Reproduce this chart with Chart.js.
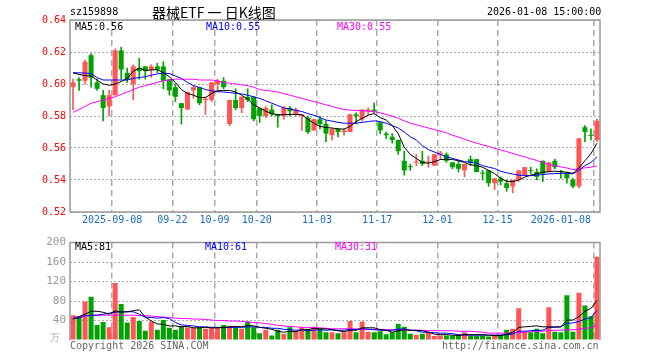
<!DOCTYPE html>
<html>
<head>
<meta charset="utf-8">
<script src="https://cdn.jsdelivr.net/npm/chart.js@4.4.1/dist/chart.umd.min.js"></script>
<style>
  body { margin: 0; background: #fff; }
  #wrap { position: relative; width: 660px; height: 360px; font-family: 'DejaVu Sans Mono', monospace; font-size: 10px; }
  #wrap canvas { position: absolute; left: 0; }
  .t { position: absolute; white-space: nowrap; line-height: 1; }
</style>
</head>
<body>
<div id="wrap">
  <canvas id="priceChart" width="660" height="232" style="top:0"></canvas>
  <canvas id="volChart" width="660" height="128" style="top:232px"></canvas>
  <div class="t" style="left:70px;top:7px">sz159898</div>
  <div class="t" style="left:152px;top:5px;font-family:'Noto Sans CJK SC',sans-serif;font-size:14px">器械ETF 一 日K线图</div>
  <div class="t" style="left:487px;top:7px">2026-01-08 15:00:00</div>
  <div class="t" style="left:75px;top:22px;color:#000">MA5:0.56</div>
  <div class="t" style="left:206px;top:22px;color:#00f">MA10:0.55</div>
  <div class="t" style="left:337px;top:22px;color:#f0f">MA30:0.55</div>
  <div class="t" style="left:75px;top:242px;color:#000">MA5:81</div>
  <div class="t" style="left:205px;top:242px;color:#00f">MA10:61</div>
  <div class="t" style="left:335px;top:242px;color:#f0f">MA30:31</div>
  <div class="t" style="left:50px;top:333px;color:#aaa">万</div>
  <div class="t" style="left:70px;top:341px;color:#666">Copyright 2026 SINA.COM</div>
  <div class="t" style="left:442px;top:341px;color:#666">http://finance.sina.com.cn</div>
</div>
<script>
const categories = [
  '2025-08-28','2025-08-29','2025-09-01','2025-09-02','2025-09-03','2025-09-04','2025-09-05','2025-09-08','2025-09-09','2025-09-10',
  '2025-09-11','2025-09-12','2025-09-15','2025-09-16','2025-09-17','2025-09-18','2025-09-19','2025-09-22','2025-09-23','2025-09-24',
  '2025-09-25','2025-09-26','2025-09-29','2025-09-30','2025-10-09','2025-10-10','2025-10-13','2025-10-14','2025-10-15','2025-10-16',
  '2025-10-17','2025-10-20','2025-10-21','2025-10-22','2025-10-23','2025-10-24','2025-10-27','2025-10-28','2025-10-29','2025-10-30',
  '2025-10-31','2025-11-03','2025-11-04','2025-11-05','2025-11-06','2025-11-07','2025-11-10','2025-11-11','2025-11-12','2025-11-13',
  '2025-11-14','2025-11-17','2025-11-18','2025-11-19','2025-11-20','2025-11-21','2025-11-24','2025-11-25','2025-11-26','2025-11-27',
  '2025-11-28','2025-12-01','2025-12-02','2025-12-03','2025-12-04','2025-12-05','2025-12-08','2025-12-09','2025-12-10','2025-12-11',
  '2025-12-12','2025-12-15','2025-12-16','2025-12-17','2025-12-18','2025-12-19','2025-12-22','2025-12-23','2025-12-24','2025-12-25',
  '2025-12-26','2025-12-29','2025-12-30','2025-12-31','2026-01-05','2026-01-06','2026-01-07','2026-01-08'
]

const openPx = [
  0.598,0.603,0.602,0.618,0.601,0.593,0.586,0.593,0.621,0.607,
  0.600,0.610,0.611,0.609,0.611,0.611,0.603,0.598,0.588,0.584,
  0.596,0.598,0.590,0.590,0.600,0.602,0.575,0.590,0.585,0.592,
  0.592,0.585,0.580,0.584,0.581,0.580,0.585,0.581,0.580,0.579,
  0.571,0.578,0.575,0.568,0.572,0.570,0.570,0.581,0.578,0.583,
  0.584,0.576,0.569,0.567,0.565,0.552,0.5485,0.551,0.552,0.551,
  0.549,0.556,0.556,0.551,0.550,0.546,0.553,0.553,0.5445,0.546,
  0.538,0.541,0.538,0.536,0.540,0.543,0.546,0.545,0.552,0.545,
  0.552,0.5455,0.544,0.540,0.536,0.573,0.568,0.565
]
const closePx = [
  0.601,0.602,0.614,0.604,0.597,0.585,0.593,0.621,0.609,0.603,
  0.611,0.608,0.608,0.611,0.609,0.602,0.596,0.592,0.585,0.595,
  0.598,0.588,0.590,0.601,0.602,0.598,0.590,0.585,0.592,0.590,
  0.578,0.580,0.585,0.581,0.580,0.585,0.583,0.584,0.581,0.570,
  0.578,0.575,0.569,0.572,0.570,0.571,0.581,0.580,0.584,0.584,
  0.583,0.571,0.568,0.565,0.558,0.546,0.548,0.5515,0.550,0.5513,
  0.556,0.557,0.552,0.548,0.547,0.550,0.551,0.545,0.544,0.538,
  0.541,0.539,0.535,0.540,0.546,0.548,0.5455,0.542,0.544,0.551,
  0.548,0.545,0.541,0.536,0.566,0.570,0.5675,0.577
]
const highPx = [
  0.603,0.604,0.615,0.619,0.603,0.596,0.596,0.622,0.623,0.610,
  0.612,0.616,0.611,0.612,0.613,0.614,0.603,0.600,0.588,0.595,
  0.599,0.598,0.592,0.601,0.603,0.604,0.590,0.597,0.592,0.597,
  0.592,0.585,0.586,0.587,0.581,0.586,0.586,0.585,0.581,0.580,
  0.578,0.580,0.577,0.572,0.572,0.572,0.581,0.582,0.584,0.585,
  0.588,0.576,0.570,0.569,0.565,0.558,0.550,0.556,0.558,0.555,
  0.556,0.558,0.557,0.551,0.552,0.550,0.555,0.553,0.546,0.546,
  0.541,0.542,0.540,0.540,0.546,0.548,0.548,0.547,0.552,0.551,
  0.553,0.546,0.545,0.541,0.566,0.574,0.572,0.578
]
const lowPx = [
  0.584,0.596,0.600,0.598,0.596,0.577,0.580,0.593,0.603,0.601,
  0.590,0.603,0.603,0.604,0.607,0.597,0.593,0.589,0.575,0.584,
  0.591,0.587,0.581,0.589,0.595,0.597,0.574,0.584,0.582,0.589,
  0.577,0.576,0.579,0.580,0.573,0.578,0.580,0.580,0.571,0.569,
  0.571,0.572,0.564,0.565,0.567,0.568,0.570,0.575,0.577,0.581,
  0.582,0.569,0.566,0.563,0.556,0.543,0.546,0.549,0.549,0.548,
  0.549,0.553,0.551,0.547,0.545,0.542,0.549,0.545,0.540,0.536,
  0.534,0.537,0.533,0.532,0.539,0.543,0.544,0.540,0.539,0.545,
  0.547,0.541,0.538,0.535,0.535,0.564,0.565,0.564
]

const ma5 = [
  0.607,0.606,0.6052,0.605,0.6025,0.600,0.5992,0.600,0.6015,0.6035,
  0.608,0.610,0.6085,0.6088,0.609,0.607,0.6045,0.601,0.5965,0.594,
  0.593,0.5915,0.5915,0.594,0.5958,0.596,0.596,0.595,0.593,0.5905,
  0.587,0.585,0.583,0.5815,0.5808,0.5808,0.581,0.581,0.5808,0.578,
  0.5755,0.5735,0.5728,0.5725,0.572,0.5718,0.5735,0.5765,0.5785,0.5805,
  0.5815,0.579,0.5775,0.574,0.569,0.5605,0.556,0.5535,0.551,0.5505,
  0.5515,0.5528,0.553,0.5528,0.552,0.551,0.5495,0.549,0.548,0.546,
  0.544,0.541,0.5392,0.539,0.540,0.5418,0.543,0.544,0.5448,0.5452,
  0.5455,0.5452,0.5448,0.5442,0.5475,0.552,0.5565,0.563
]
const ma10 = [
  0.607,0.607,0.6068,0.6065,0.604,0.6025,0.6025,0.6025,0.6025,0.6025,
  0.6035,0.604,0.6046,0.6055,0.6063,0.6068,0.6065,0.605,0.6035,0.601,
  0.599,0.5978,0.5965,0.5958,0.5952,0.595,0.5946,0.5942,0.5938,0.593,
  0.592,0.591,0.5895,0.588,0.5865,0.585,0.5845,0.5835,0.5828,0.5815,
  0.5805,0.579,0.5775,0.5768,0.576,0.5755,0.5755,0.5755,0.576,0.5765,
  0.577,0.5765,0.5755,0.574,0.5725,0.570,0.567,0.565,0.5615,0.559,
  0.5575,0.556,0.5545,0.5535,0.5525,0.5515,0.551,0.5505,0.549,0.548,
  0.5472,0.5455,0.5445,0.5438,0.543,0.5428,0.5427,0.543,0.5434,0.5438,
  0.544,0.5442,0.5442,0.5438,0.546,0.549,0.551,0.5545
]
const ma30 = [
  0.5823,0.584,0.586,0.588,0.589,0.590,0.591,0.592,0.5935,0.595,
  0.5965,0.598,0.599,0.600,0.601,0.602,0.6025,0.603,0.603,0.603,
  0.603,0.6025,0.6025,0.6025,0.602,0.601,0.6005,0.600,0.5995,0.599,
  0.598,0.5965,0.596,0.5955,0.595,0.594,0.593,0.592,0.591,0.590,
  0.589,0.588,0.587,0.586,0.585,0.584,0.5837,0.5835,0.5833,0.583,
  0.5827,0.582,0.581,0.580,0.5785,0.577,0.5755,0.5745,0.5735,0.5725,
  0.5715,0.5705,0.5695,0.568,0.5668,0.5655,0.5642,0.563,0.562,0.561,
  0.5598,0.5588,0.5578,0.5566,0.5555,0.5545,0.5533,0.5522,0.551,0.5498,
  0.549,0.5482,0.5475,0.5465,0.547,0.5476,0.548,0.5488
]

// volume, in 10k lots
const volume = [
  51,47,79,89,31,37,26,117,74,36,
  47,39,19,38,21,41,25,21,29,26,
  25,26,23,26,25,31,29,27,23,38,
  26,14,21,9,21,13,26,18,26,23,
  27,23,16,16,14,16,39,16,38,17,
  16,18,12,16,33,27,13,11,13,16,
  8,9,9,9,11,16,9,9,9,7,
  11,11,21,23,65,17,16,23,14,67,
  17,16,92,17,97,71,49,171
]
const volMa5 = [
  43,48,53,59,59,57,53,60,57,58,
  60,62,47,39,33,32,29,29,27,28,
  25,25,26,25,25,26,27,28,27,30,
  29,26,24,22,18,16,18,17,21,21,
  24,23,23,21,19,17,20,20,25,25,
  25,21,20,16,19,21,20,20,19,16,
  12,11,11,10,9,11,11,11,11,10,
  9,9,12,15,26,27,28,29,27,27,
  27,27,41,41,48,59,65,81
]
const volMa10 = [
  44,45,50,51,51,53,55,57,58,58,
  58,53,47,46,45,46,44,36,31,30,
  29,27,27,26,26,25,26,26,26,27,
  27,26,26,24,24,22,21,20,21,19,
  20,21,20,21,20,20,22,21,23,22,
  21,20,20,20,22,23,20,19,16,16,
  15,14,14,13,11,10,10,10,10,10,
  10,10,11,12,18,18,19,20,20,26,
  26,27,34,35,38,43,46,61
]
const volMa30 = [
  47,48,49,50,51,51,51,51,51,51,
  51,50,50,49,48,47,46,45,44,44,
  43,43,42,41,40,40,39,39,38,37,
  36,35,34,32,30,29,28,27,26,26,
  25,25,24,23,23,23,23,23,22,22,
  22,22,21,21,21,21,20,20,20,19,
  19,19,19,19,18,18,18,17,16,14,
  14,14,14,15,15,16,17,18,18,19,
  20,20,21,21,22,24,25,31
]

const priceTicks = [0.52, 0.54, 0.56, 0.58, 0.60, 0.62, 0.64]
const volTicks = [0, 40, 80, 120, 160, 200]
const tickDates = ['2025-09-08','2025-09-22','2025-10-09','2025-10-20','2025-11-03','2025-11-17','2025-12-01','2025-12-15','2026-01-08']
const tickLabels = ['2025-09-08','09-22','10-09','10-20','11-03','11-17','12-01','12-15','2026-01-08']

const RED = '#ff5555'
const GREEN = '#00a300'
const MONO = 'DejaVu Sans Mono'
const candleColors = closePx.map((c, i) => c >= openPx[i] ? RED : GREEN)
const isTickLine = i => tickDates.includes(categories[i])

// outer frame of each plot area
const framePlugin = {
  id: 'frame',
  afterDraw(chart, args, opts) {
    const { ctx, chartArea: a } = chart
    ctx.save()
    ctx.strokeStyle = '#999'
    ctx.lineWidth = 1.5
    ctx.beginPath()
    ctx.moveTo(a.left, a.bottom)
    ctx.lineTo(a.left, a.top)
    ctx.lineTo(a.right, a.top)
    ctx.lineTo(a.right, a.bottom)
    if (opts.bottom) ctx.lineTo(a.left, a.bottom)
    ctx.stroke()
    ctx.restore()
  }
}

// date labels under the price panel, centred on the dashed lines
const dateLabelPlugin = {
  id: 'dateLabels',
  afterDraw(chart) {
    const { ctx, chartArea: a } = chart
    const x = chart.scales.x
    const half = (x.getPixelForValue(1) - x.getPixelForValue(0)) / 2
    ctx.save()
    ctx.font = '10px ' + MONO
    ctx.fillStyle = '#1a6cc8'
    ctx.textBaseline = 'middle'
    tickDates.forEach((d, k) => {
      const idx = categories.indexOf(d)
      const px = x.getPixelForValue(idx) - half
      const w = ctx.measureText(tickLabels[k]).width
      let left = px - w / 2
      if (left + w > a.right - 9) left = a.right - 9 - w
      ctx.fillText(tickLabels[k], left, a.bottom + 8)
    })
    ctx.restore()
  }
}

function xScale() {
  return {
    type: 'category',
    offset: true,
    grid: {
      offset: true,
      drawTicks: false,
      lineWidth: 1.5,
      color: c => isTickLine(c.index) ? '#aaa' : 'rgba(0,0,0,0)'
    },
    border: { display: false, dash: [6, 4] },
    ticks: { display: false, autoSkip: false },
    afterFit: s => { s.height = 20 }
  }
}

function maLine(label, data, color) {
  return {
    type: 'line', label, data,
    borderColor: color, borderWidth: 1,
    pointRadius: 0, tension: 0, order: 0
  }
}

new Chart(document.getElementById('priceChart').getContext('2d'), {
  type: 'bar',
  data: {
    labels: categories,
    datasets: [
      {
        label: 'wick',
        data: lowPx.map((l, i) => [l, highPx[i]]),
        backgroundColor: candleColors,
        barThickness: 1,
        grouped: false,
        order: 2
      },
      {
        label: 'body',
        data: openPx.map((o, i) => [o, closePx[i]]),
        backgroundColor: candleColors,
        barPercentage: 0.83,
        categoryPercentage: 1,
        minBarLength: 1,
        grouped: false,
        order: 1
      },
      maLine('MA5', ma5, '#000'),
      maLine('MA10', ma10, '#0000ff'),
      maLine('MA30', ma30, '#ff00ff')
    ]
  },
  options: {
    responsive: false,
    animation: false,
    layout: { padding: { left: 0, right: 60, top: 20, bottom: 0 } },
    plugins: { legend: { display: false }, tooltip: { enabled: false }, frame: { bottom: true } },
    scales: {
      x: xScale(),
      y: {
        min: priceTicks[0],
        max: priceTicks[priceTicks.length - 1],
        ticks: {
          stepSize: 0.02,
          color: '#ff0000',
          padding: 4,
          font: { family: MONO, size: 10 },
          callback: v => v.toFixed(2)
        },
        grid: { drawTicks: false, color: '#aaa', lineWidth: 1 },
        border: { display: false, dash: [2, 2] },
        afterFit: s => { s.width = 70 }
      }
    }
  },
  plugins: [framePlugin, dateLabelPlugin]
})

new Chart(document.getElementById('volChart').getContext('2d'), {
  type: 'bar',
  data: {
    labels: categories,
    datasets: [
      {
        label: 'volume',
        data: volume,
        backgroundColor: candleColors,
        barPercentage: 0.83,
        categoryPercentage: 1,
        order: 1
      },
      maLine('MA5', volMa5, '#000'),
      maLine('MA10', volMa10, '#0000ff'),
      maLine('MA30', volMa30, '#ff00ff')
    ]
  },
  options: {
    responsive: false,
    animation: false,
    layout: { padding: { left: 0, right: 60, top: 8, bottom: 0 } },
    plugins: { legend: { display: false }, tooltip: { enabled: false }, frame: { bottom: false } },
    scales: {
      x: xScale(),
      y: {
        min: volTicks[0],
        max: volTicks[volTicks.length - 1],
        ticks: {
          stepSize: 40,
          color: '#999',
          padding: 4,
          font: { family: MONO, size: 11 },
          callback: v => v === 0 ? '' : v
        },
        grid: { drawTicks: false, color: c => c.tick && c.tick.value === 0 ? 'rgba(0,0,0,0)' : '#aaa', lineWidth: 1 },
        border: { display: false, dash: [2, 2] },
        afterFit: s => { s.width = 70 }
      }
    }
  },
  plugins: [framePlugin]
})
</script>
</body>
</html>
